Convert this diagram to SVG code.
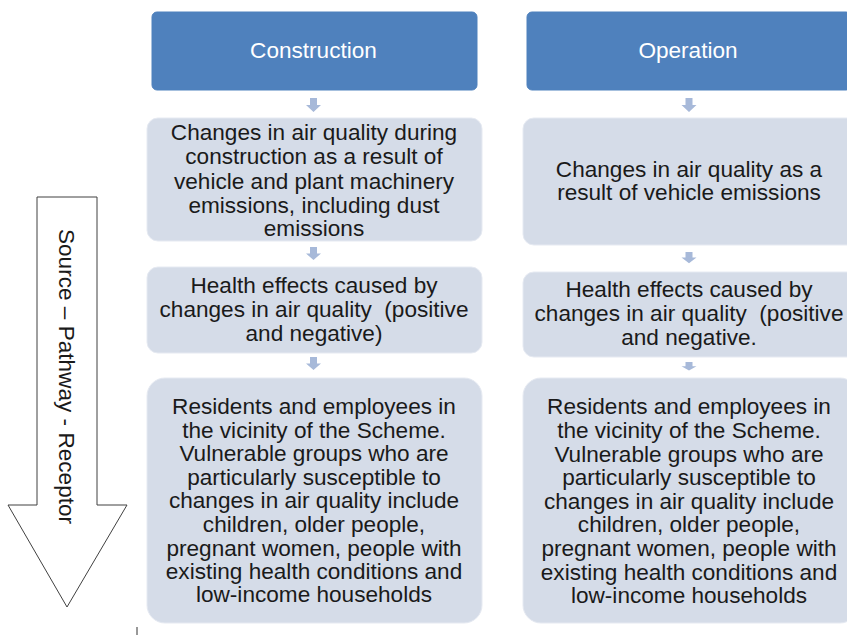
<svg xmlns="http://www.w3.org/2000/svg" width="847" height="635" viewBox="0 0 847 635">
<style>
.hdr{fill:#4F81BD;stroke:#4F81BD;stroke-width:1}
.box{fill:#D5DCE8;stroke:#E6EAF2;stroke-width:1}
.arr{fill:#A7B9D9}
.ht{font-family:"Liberation Sans",Arial,sans-serif;font-size:22.6px;fill:#FFFFFF;text-anchor:middle}
.bt{font-family:"Liberation Sans",Arial,sans-serif;font-size:22.6px;fill:#1A1A1A;text-anchor:middle;white-space:pre}
.vt{font-family:"Liberation Sans",Arial,sans-serif;font-size:22.6px;fill:#1A1A1A;text-anchor:middle}
</style>
<defs>
<path id="sa" d="M-3.5,0 h7 v7 h4 l-7.5,7 l-7.5,-7 h4 z"/>
</defs>
<rect width="847" height="635" fill="#FFFFFF"/>

<g id="spr-arrow">
<polygon points="37,197 97,197 97,505 127,505 67,607 8,505 37,505" fill="#FFFFFF" stroke="#404040" stroke-width="1"/>
<text class="vt" transform="translate(67,376.5) rotate(90)" x="0" y="8">Source – Pathway - Receptor</text>
</g>

<g id="connectors">
<use href="#sa" class="arr" transform="translate(313.5,98)"/>
<use href="#sa" class="arr" transform="translate(313.5,247) scale(1,0.93)"/>
<use href="#sa" class="arr" transform="translate(313.5,357) scale(1,0.93)"/>
<use href="#sa" class="arr" transform="translate(689,98)"/>
<use href="#sa" class="arr" transform="translate(689,252) scale(1,0.8)"/>
<use href="#sa" class="arr" transform="translate(689,362) scale(1,0.6)"/>
</g>

<g id="construction">
<rect class="hdr" x="152" y="12" width="325" height="78" rx="5"/>
<text class="ht" x="313.5" y="58">Construction</text>
</g>

<g id="operation">
<rect class="hdr" x="527" y="12" width="324" height="78" rx="5"/>
<text class="ht" x="688" y="58">Operation</text>
</g>

<g id="c-source">
<rect class="box" x="147" y="118" width="335" height="123" rx="11"/>
<text class="bt" x="314"><tspan x="314" y="140">Changes in air quality during</tspan><tspan x="314" y="164">construction as a result of</tspan><tspan x="314" y="189">vehicle and plant machinery</tspan><tspan x="314" y="213">emissions, including dust</tspan><tspan x="314" y="236">emissions</tspan></text>
</g>

<g id="c-pathway">
<rect class="box" x="147" y="267" width="335" height="86" rx="11"/>
<text class="bt" x="314"><tspan x="314" y="293">Health effects caused by</tspan><tspan x="314" y="317">changes in air quality  (positive</tspan><tspan x="314" y="341">and negative)</tspan></text>
</g>

<g id="c-receptor">
<rect class="box" x="147" y="378" width="335" height="245" rx="18"/>
<text class="bt" x="314"><tspan x="314" y="414">Residents and employees in</tspan><tspan x="314" y="438">the vicinity of the Scheme.</tspan><tspan x="314" y="461">Vulnerable groups who are</tspan><tspan x="314" y="485">particularly susceptible to</tspan><tspan x="314" y="508">changes in air quality include</tspan><tspan x="314" y="532">children, older people,</tspan><tspan x="314" y="556">pregnant women, people with</tspan><tspan x="314" y="579">existing health conditions and</tspan><tspan x="314" y="602">low-income households</tspan></text>
</g>

<g id="o-source">
<rect class="box" x="523" y="118" width="335" height="127" rx="11"/>
<text class="bt" x="689"><tspan x="689" y="177">Changes in air quality as a</tspan><tspan x="689" y="200">result of vehicle emissions</tspan></text>
</g>

<g id="o-pathway">
<rect class="box" x="523" y="272" width="335" height="85" rx="11"/>
<text class="bt" x="689"><tspan x="689" y="297">Health effects caused by</tspan><tspan x="689" y="321">changes in air quality  (positive</tspan><tspan x="689" y="345">and negative.</tspan></text>
</g>

<g id="o-receptor">
<rect class="box" x="523" y="378" width="335" height="245" rx="18"/>
<text class="bt" x="689"><tspan x="689" y="414">Residents and employees in</tspan><tspan x="689" y="438">the vicinity of the Scheme.</tspan><tspan x="689" y="462">Vulnerable groups who are</tspan><tspan x="689" y="485">particularly susceptible to</tspan><tspan x="689" y="509">changes in air quality include</tspan><tspan x="689" y="532">children, older people,</tspan><tspan x="689" y="556">pregnant women, people with</tspan><tspan x="689" y="580">existing health conditions and</tspan><tspan x="689" y="603">low-income households</tspan></text>
</g>

<line x1="137" y1="627" x2="137" y2="635" stroke="#333333" stroke-width="1"/>
</svg>
